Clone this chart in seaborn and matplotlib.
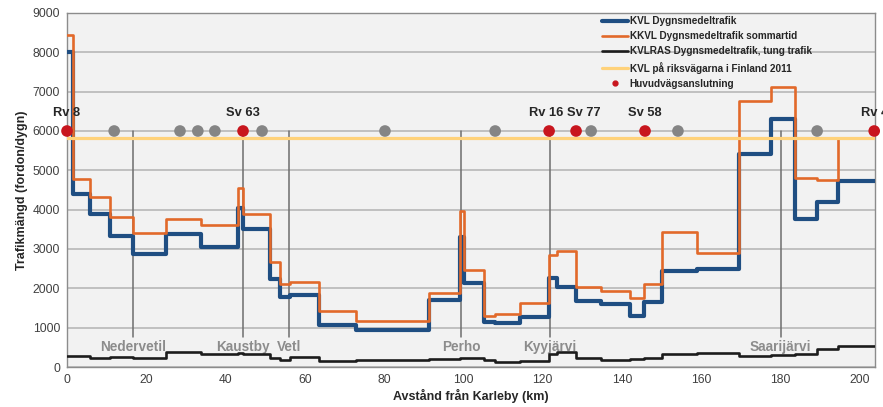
import numpy as np
import pandas as pd
import matplotlib
matplotlib.use("Agg")
import matplotlib.pyplot as plt
from matplotlib.lines import Line2D
import seaborn as sns

# ---------------- data ----------------
edges_km = [0, 1.5, 5.8, 10.8, 16.7, 24.9, 33.8, 43.1, 44.3, 51.3, 53.7, 56.2, 63.6,
            72.9, 91.3, 99.1, 100.2, 105.2, 108.0, 114.2, 121.6, 123.7, 128.4, 134.6,
            142.0, 145.6, 150.2, 158.8, 169.6, 177.6, 183.6, 189.2, 194.5, 203.8]

kvl = [8000, 4400, 3880, 3320, 2870, 3390, 3050, 4050, 3510, 2250, 1780, 1840, 1070,
       950, 1700, 3310, 2130, 1140, 1110, 1280, 2270, 2040, 1680, 1610, 1290, 1640,
       2450, 2500, 5410, 6310, 3760, 4200, 4740]

kkvl = [8450, 4780, 4330, 3820, 3410, 3760, 3620, 4540, 3900, 2660, 2110, 2170, 1420,
        1160, 1880, 3970, 2470, 1290, 1340, 1630, 2850, 2960, 2030, 1940, 1750, 2110,
        3420, 2910, 6750, 7130, 4810, 4750, 5830]

kvlras = [280, 280, 220, 260, 240, 370, 330, 360, 320, 240, 190, 250, 140,
          170, 210, 240, 240, 180, 130, 160, 330, 370, 240, 180, 210, 240,
          320, 360, 280, 310, 340, 450, 540]

finland_avg = 5830

main_km = [0, 44.4, 121.6, 128.4, 145.8, 203.6]
main_names = ["Rv 8", "Sv 63", "Rv 16", "Sv 77", "Sv 58", "Rv 4"]
other_km = [11.9, 28.5, 33.0, 37.3, 49.2, 80.2, 108.0, 132.2, 154.1, 189.2]
junction_level = 6000

town_names = ["Nedervetil", "Kaustby", "Vetl", "Perho", "Kyyjärvi", "Saarijärvi"]
town_km = [16.7, 44.4, 56.0, 99.4, 121.8, 180.0]

legend_labels = ["KVL Dygnsmedeltrafik", "KKVL Dygnsmedeltrafik sommartid",
                 "KVLRAS Dygnsmedeltrafik, tung trafik",
                 "KVL på riksvägarna i Finland 2011", "Huvudvägsanslutning"]

# ---------------- style ----------------
sns.set_theme(style="white")
plt.rcParams["font.family"] = ["Liberation Sans", "DejaVu Sans"]

C_BLUE = "#1f4e82"
C_ORANGE = "#e2692a"
C_BLACK = "#1c1c1c"
C_YELLOW = "#ffd27a"
C_RED = "#c8161e"
C_GRAY = "#858585"

def step_frame(vals):
    x = list(edges_km[:-1]) + [edges_km[-1]]
    y = list(vals) + [vals[-1]]
    return pd.DataFrame({"km": x, "v": y})

fig = plt.figure(figsize=(8.83, 4.07), dpi=100)
ax = fig.add_axes([67 / 883, 1 - 367 / 407, (875 - 67) / 883, (367 - 13) / 407])
ax.set_facecolor("#f2f2f2")

ax.set_xlim(0, 203.8)
ax.set_ylim(0, 9000)
ax.set_yticks(np.arange(0, 9001, 1000))
ax.set_xticks(np.arange(0, 201, 20))
ax.yaxis.grid(True, color="#b3b3b3", lw=1.1, zorder=0)
ax.xaxis.grid(False)
ax.set_axisbelow(True)

# town lines and labels
for name, km in zip(town_names, town_km):
    ax.plot([km, km], [760, junction_level], color="#6e6e6e", lw=1.1, zorder=1)
    ax.text(km, 510, name, ha="center", va="center", color="#8c8c8c",
            fontsize=9.8, fontweight="bold", zorder=2)

sns.lineplot(data=step_frame(kvl), x="km", y="v", ax=ax, drawstyle="steps-post",
             color=C_BLUE, lw=3.0, sort=False, estimator=None, zorder=3)
sns.lineplot(data=step_frame(kkvl), x="km", y="v", ax=ax, drawstyle="steps-post",
             color=C_ORANGE, lw=1.9, sort=False, estimator=None, zorder=4)
sns.lineplot(data=step_frame(kvlras), x="km", y="v", ax=ax, drawstyle="steps-post",
             color=C_BLACK, lw=1.9, sort=False, estimator=None, zorder=5)
yl = pd.DataFrame({"km": [0, edges_km[-1]], "v": [finland_avg, finland_avg]})
sns.lineplot(data=yl, x="km", y="v", ax=ax, color=C_YELLOW, lw=2.3,
             sort=False, estimator=None, zorder=6)

og = pd.DataFrame({"km": other_km, "v": [junction_level] * len(other_km)})
sns.scatterplot(data=og, x="km", y="v", ax=ax, color=C_GRAY, s=70,
                edgecolor="none", zorder=7, clip_on=False)
mj = pd.DataFrame({"km": main_km, "v": [junction_level] * len(main_km)})
sns.scatterplot(data=mj, x="km", y="v", ax=ax, color=C_RED, s=70,
                edgecolor="none", zorder=8, clip_on=False)

label_shift = {"Rv 16": -0.8, "Sv 77": 1.9}
for name, km in zip(main_names, main_km):
    ax.text(km + label_shift.get(name, 0), 6300, name, ha="center", va="bottom",
            fontsize=9.3, fontweight="bold", color="#262626", clip_on=False, zorder=9)

ax.set_xlabel("Avstånd från Karleby (km)", fontsize=9, fontweight="bold",
              color="#262626", labelpad=2)
ax.set_ylabel("Trafikmängd (fordon/dygn)", fontsize=9, fontweight="bold",
              color="#262626", labelpad=3)
ax.tick_params(axis="both", labelsize=8.7, colors="#404040", length=3,
               direction="out", width=0.8)
ax.tick_params(axis="both", color="#808080")
ax.tick_params(axis="x", pad=2)
ax.tick_params(axis="y", pad=2)
for s in ax.spines.values():
    s.set_color("#8c8c8c")
    s.set_linewidth(1.0)

handles = [
    Line2D([], [], color=C_BLUE, lw=3.0),
    Line2D([], [], color=C_ORANGE, lw=1.9),
    Line2D([], [], color=C_BLACK, lw=1.9),
    Line2D([], [], color=C_YELLOW, lw=2.3),
    Line2D([], [], color=C_RED, lw=0, marker="o", markersize=3.5),
]
leg = ax.legend(handles, legend_labels, loc="upper left",
                bbox_to_anchor=((602 - 67) / 808, (367 - 16) / 354),
                prop={"weight": "bold", "size": 7.2}, frameon=False,
                handlelength=2.6, handletextpad=0.15, labelspacing=0.52,
                borderpad=0.0, borderaxespad=0.0)
for t in leg.get_texts():
    t.set_color("#262626")
leg.set_zorder(10)

fig.savefig("out.png", dpi=100, facecolor="white")
